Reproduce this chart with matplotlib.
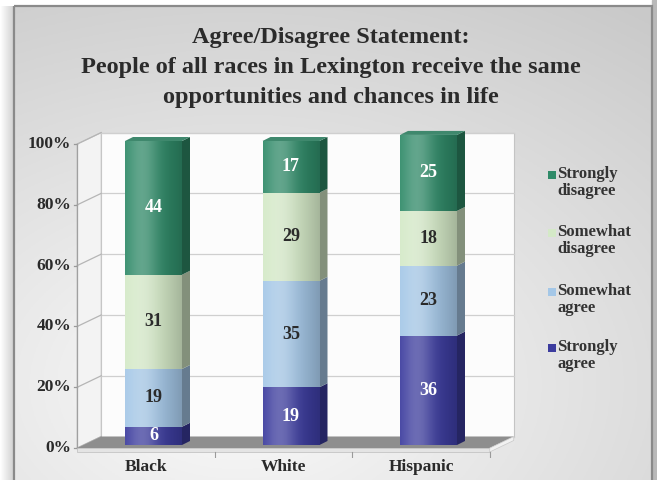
import numpy as np
import matplotlib.pyplot as plt
from matplotlib.patches import Polygon, Rectangle
from matplotlib.colors import to_rgb

groups = ['Black', 'White', 'Hispanic']
series = ['Strongly agree', 'Somewhat agree', 'Somewhat disagree', 'Strongly disagree']
strongly_agree = [6, 19, 36]
somewhat_agree = [19, 35, 23]
somewhat_disagree = [31, 29, 18]
strongly_disagree = [44, 17, 25]
values = [strongly_agree, somewhat_agree, somewhat_disagree, strongly_disagree]
colors = ['#3c3c9e', '#a4c7e7', '#d4e9c7', '#2f8a68']
label_colors = ['white', '#2a2a2a', '#2a2a2a', 'white']
legend_labels = ['Strongly\nagree', 'Somewhat\nagree', 'Somewhat\ndisagree', 'Strongly\ndisagree']
yticks = [0, 20, 40, 60, 80, 100]
title_lines = ['Agree/Disagree Statement:',
               'People of all races in Lexington receive the same',
               'opportunities and chances in life']

W, H = 657, 480
SERIF = 'Liberation Serif'
plt.rcParams['font.family'] = SERIF

fig = plt.figure(figsize=(W / 100, H / 100), dpi=100)

# background: page + gradient panel
bg = fig.add_axes([0, 0, 1, 1])
bg.set_xlim(0, W)
bg.set_ylim(H, 0)
bg.axis('off')
yy, xx = np.mgrid[0:1:200j, 0:1:260j]
d = np.sqrt(((xx - 0.35) / 1.1) ** 2 + (yy - 0.8) ** 2)
shade = np.clip(0.985 - 0.2 * d, 0.79, 1)
bg.imshow(np.dstack([shade] * 3), extent=(14, 652, 480, 6), aspect='auto', zorder=0)
lg = np.linspace(1, 0.82, 20)[None, :] * np.ones((10, 1))
bg.imshow(np.dstack([lg] * 3), extent=(0, 14, 480, 6), aspect='auto', zorder=0)
bg.add_patch(Rectangle((652, 0), 5, H, color='#b9b9b9', zorder=0))
bg.add_patch(Rectangle((14, 6), 638, 480, fill=False, ec='#8a8a8a', lw=1.6, zorder=1))

# main axes: data x = category index (front plane), y = percent
PX, PY = 137.5, 3.04
ax = fig.add_axes([70 / W, 1 - 458 / H, 450 / W, 333 / H])
ax.set_xlim((70 - 146) / PX, (520 - 146) / PX)
ax.set_ylim((445 - 458) / PY, (445 - 125) / PY)
ax.axis('off')

FY = -1.0                     # front plane shift
WX, WY = 24 / PX, 11.5 / PY   # wall depth
BX = 7.5 / PX                 # bar depth position
SX, SY = 8 / PX, 4 / PY       # bar depth
HW = 28.5 / PX                # bar half width
x0, x1 = -0.5, 2.5

# back wall and side wall
ax.add_patch(Polygon([(x0 + WX, FY + WY), (x1 + WX, FY + WY), (x1 + WX, FY + WY + 100),
                      (x0 + WX, FY + WY + 100)], fc='#fcfcfc', ec='#c4c4c4', lw=0.8, zorder=1))
ax.add_patch(Polygon([(x0, FY), (x0 + WX, FY + WY), (x0 + WX, FY + WY + 100), (x0, FY + 100)],
                     fc='#f3f3f3', ec='#c4c4c4', lw=0.8, zorder=1))
for v in yticks:
    ax.plot([x0 + WX, x1 + WX], [FY + WY + v] * 2, color='#cfcfcf', lw=0.9, zorder=2)
    ax.plot([x0, x0 + WX], [FY + v, FY + WY + v], color='#b5b5b5', lw=0.9, zorder=2)
    ax.plot([x0 - 0.025, x0], [FY + v] * 2, color='#999999', lw=0.9, zorder=2)
    ax.text(x0 - 0.045, FY + v, f'{v}%', ha='right', va='center', fontsize=12.5,
            fontweight='bold', color='#2a2a2a')
ax.plot([x0, x0], [FY, FY + 100], color='#a0a0a0', lw=0.9, zorder=2)

# floor
ax.add_patch(Polygon([(x0, FY), (x1, FY), (x1 + WX, FY + WY), (x0 + WX, FY + WY)],
                     fc='#8e8e8e', ec='none', zorder=3))
ax.add_patch(Polygon([(x0, FY), (x1, FY), (x1, FY - 1.3), (x0, FY - 1.3)],
                     fc='#e4e4e4', ec='#bdbdbd', lw=0.5, zorder=3))
ax.add_patch(Polygon([(x1, FY), (x1 + WX, FY + WY), (x1 + WX, FY + WY - 1.3), (x1, FY - 1.3)],
                     fc='#f2f2f2', ec='#c8c8c8', lw=0.5, zorder=3))
for t in [0.5, 1.5, 2.5]:
    ax.plot([t, t], [FY - 1.3, FY - 3.3], color='#9a9a9a', lw=0.8, zorder=3)


def face_gradient(color, n=64):
    c = np.array(to_rgb(color))
    t = np.linspace(0, 1, n)[:, None]
    light = 0.25 * np.exp(-((t - 0.3) / 0.28) ** 2)
    col = c * (1 - 0.22 * t ** 2)
    col = col + (1 - col) * light
    return np.clip(col, 0, 1)[None, :, :]


for i, g in enumerate(groups):
    xc = i + BX
    left, right = xc - HW, xc + HW
    bottom = 0
    for s in range(len(series)):
        v = values[s][i]
        top = bottom + v
        c = np.array(to_rgb(colors[s]))
        ax.imshow(face_gradient(colors[s]), extent=(left, right, bottom, top),
                  aspect='auto', zorder=5, interpolation='bilinear')
        ax.add_patch(Polygon([(right, bottom), (right + SX, bottom + SY),
                              (right + SX, top + SY), (right, top)],
                             fc=c * 0.62, ec='none', zorder=4))
        if s == len(series) - 1:
            ax.add_patch(Polygon([(left, top), (right, top), (right + SX, top + SY),
                                  (left + SX, top + SY)], fc=c * 0.8 + 0.1, ec='none', zorder=4))
        ax.text(xc, bottom + v / 2, str(v), ha='center', va='center', fontsize=13,
                fontweight='bold', color=label_colors[s], zorder=6)
        bottom = top
    ax.text(i, (445 - 467) / PY, g, ha='center', va='center', fontsize=12.5,
            fontweight='bold', color='#2a2a2a')

ax.set_xlim((70 - 146) / PX, (520 - 146) / PX)
ax.set_ylim((445 - 458) / PY, (445 - 125) / PY)

# title
for k, line in enumerate(title_lines):
    fig.text(331 / W, 1 - (38 + 30 * k) / H, line, ha='center', va='center',
             fontsize=17.5, fontweight='bold', color='#2b2b2b')

# legend
leg_y = [348, 292, 233, 175]
for s in range(len(series)):
    y = leg_y[s]
    fig.patches.append(Rectangle((548 / W, 1 - (y + 4) / H), 8 / W, 8 / H,
                                 transform=fig.transFigure, fc=colors[s], ec='none'))
    fig.text(557 / W, 1 - (y - 9) / H, legend_labels[s], ha='left', va='top',
             fontsize=12, fontweight='bold', color='#333333', linespacing=1.05)

fig.savefig('out.png', dpi=100)
